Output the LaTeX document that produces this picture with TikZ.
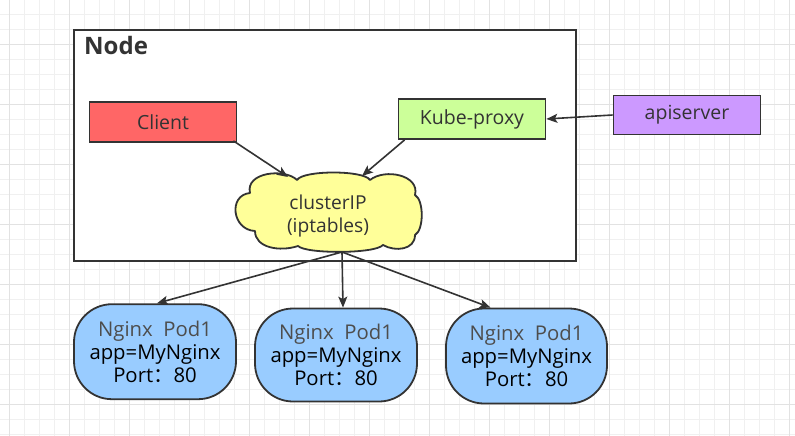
\documentclass[tikz,border=0pt]{standalone}
\usepackage{fontspec}
\setmainfont{Open Sans}
\newfontfamily\cjk{Noto Sans CJK SC}
\usetikzlibrary{arrows.meta}
\definecolor{gridminor}{HTML}{F0F0F0}
\definecolor{gridmajor}{HTML}{E2E2E2}
\definecolor{edge}{HTML}{333333}
\definecolor{clientfill}{HTML}{FF6666}
\definecolor{kubefill}{HTML}{CCFF99}
\definecolor{apifill}{HTML}{CC99FF}
\definecolor{cloudfill}{HTML}{FFFF99}
\definecolor{podfill}{HTML}{99CCFF}
\definecolor{podgray}{HTML}{4D4D4D}
\tikzset{
  boxstyle/.style={draw=edge, line width=1.8pt, minimum width=147pt, minimum height=40pt, inner sep=0pt,
    text=edge, font=\fontsize{19.5}{22}\selectfont},
  podstyle/.style={draw=edge, line width=1.8pt, fill=podfill, rounded corners=38pt, minimum width=162pt,
    minimum height=95pt, inner sep=0pt, align=center, font=\fontsize{20.3}{23}\selectfont},
  arr/.style={draw=edge, line width=1.6pt, -{Stealth[length=11pt,width=9pt,inset=2.5pt]}},
  cloudline/.style={draw=edge, line width=1.8pt, fill=cloudfill, line join=round},
}
\begin{document}
\begin{tikzpicture}[x=1pt,y=-1pt]
\useasboundingbox (0,0) rectangle (795,436);
\fill[white] (0,0) rectangle (795,436);
% grid
\foreach \i in {0,...,52} \draw[gridminor, line width=1pt] ({9.3+15*\i},0) -- ({9.3+15*\i},436);
\foreach \i in {0,...,28} \draw[gridminor, line width=1pt] (0,{14.3+15*\i}) -- (795,{14.3+15*\i});
\foreach \i in {0,...,13} \draw[gridmajor, line width=1pt] ({9.3+60*\i},0) -- ({9.3+60*\i},436);
\foreach \i in {-1,...,7} \draw[gridmajor, line width=1pt] (0,{44.3+60*\i}) -- (795,{44.3+60*\i});
% Node box
\node[draw=edge, fill=white, line width=1.8pt, minimum width=502pt, minimum height=231pt, inner sep=0pt] (nodebox) at (325,145.5) {};
\node[anchor=west, inner sep=0pt, text=edge, font=\bfseries\fontsize{24}{24}\selectfont] (nodelabel) at (84,46) {Node};
% boxes
\node[boxstyle, fill=clientfill] (client) at (163,122) {Client};
\node[boxstyle, fill=kubefill] (kube) at (472,119) {Kube-proxy};
\node[boxstyle, fill=apifill, minimum height=39pt] (api) at (687,115) {apiserver};
% cloud outline
\path[cloudline] (255,231) .. controls (232,230) and (228,195) .. (250,193)
  .. controls (245,172) and (285,168) .. (297,180)
  .. controls (303,170) and (364,170) .. (370,180)
  .. controls (385,168) and (420,175) .. (415,195)
  .. controls (424,200) and (424,230) .. (415,235)
  .. controls (415,250) and (395,252) .. (383,245)
  .. controls (375,254) and (306,254) .. (298,246)
  .. controls (280,252) and (255,248) .. (255,231) -- cycle;
\node[inner sep=0pt, align=center, text=edge, font=\fontsize{19.2}{23}\selectfont] (cloud) at (328,216) {clusterIP\\(iptables)};
% pods
\node[podstyle] (pod1) at (155,351.7) {\textcolor{podgray}{Nginx\ \ Pod1}\\app=MyNginx\\Port{\cjk ：}80};
\node[podstyle, minimum height=93pt] (pod2) at (336,355) {\textcolor{podgray}{Nginx\ \ Pod1}\\app=MyNginx\\Port{\cjk ：}80};
\node[podstyle, minimum width=161pt] (pod3) at (526.5,356) {\textcolor{podgray}{Nginx\ \ Pod1}\\app=MyNginx\\Port{\cjk ：}80};
% connectors
\coordinate (cb) at ([xshift=14pt,yshift=-36pt]cloud.center);
\draw[arr] ([xshift=-4pt,yshift=2pt]client.south east) -- ([xshift=-40pt,yshift=39pt]cloud.center);
\draw[arr] ([xshift=7pt]kube.south west) -- ([xshift=34pt,yshift=40pt]cloud.center);
\draw[arr] (api.west) -- (kube.east);
\draw[arr] (cb) -- ([xshift=2pt]pod1.north);
\draw[arr] (cb) -- ([xshift=7pt]pod2.north);
\draw[arr] (cb) -- ([xshift=-36pt]pod3.north);
\end{tikzpicture}
\end{document}
